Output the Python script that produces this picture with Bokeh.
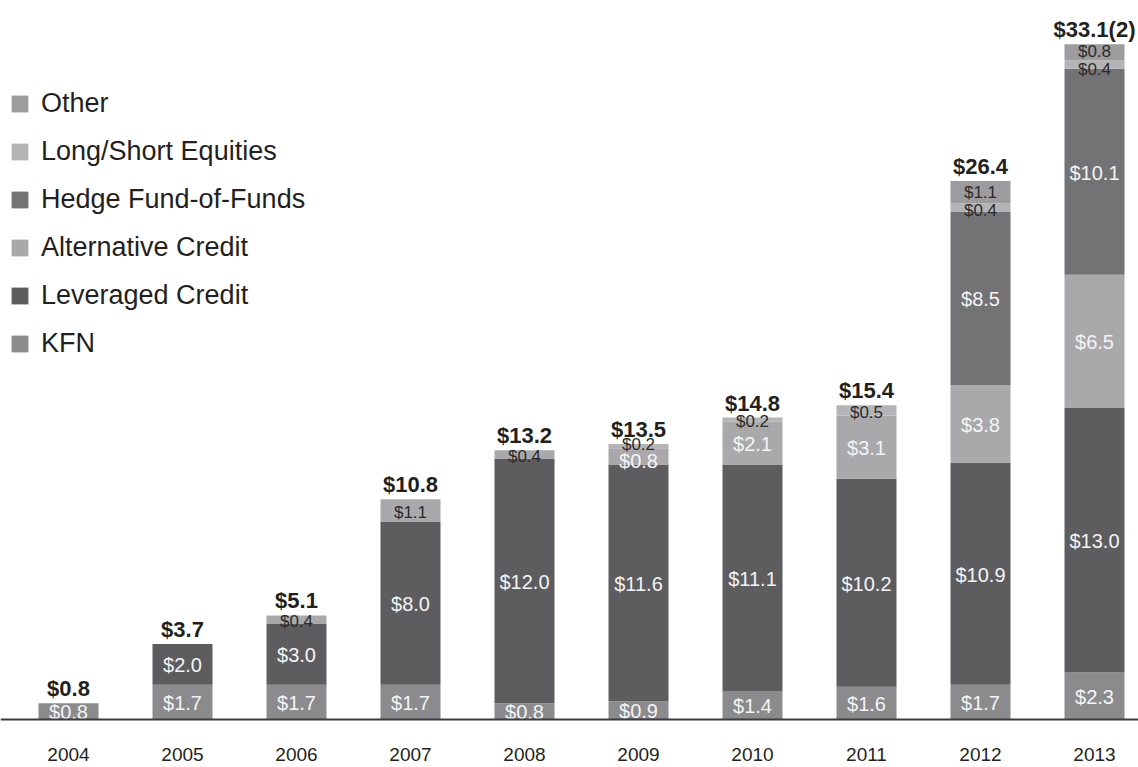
from bokeh.plotting import figure
from bokeh.models import Range1d, ColumnDataSource, Legend, LegendItem, Span
from bokeh.core.properties import value
from bokeh.embed import file_html
from bokeh.resources import INLINE

years = ["2004", "2005", "2006", "2007", "2008", "2009", "2010", "2011", "2012", "2013"]
kfn = [0.8, 1.7, 1.7, 1.7, 0.8, 0.9, 1.4, 1.6, 1.7, 2.3]
leveraged_credit = [0.0, 2.0, 3.0, 8.0, 12.0, 11.6, 11.1, 10.2, 10.9, 13.0]
alternative_credit = [0.0, 0.0, 0.4, 1.1, 0.4, 0.8, 2.1, 3.1, 3.8, 6.5]
hedge_fof = [0.0, 0.0, 0.0, 0.0, 0.0, 0.0, 0.0, 0.0, 8.5, 10.1]
long_short = [0.0, 0.0, 0.0, 0.0, 0.0, 0.2, 0.2, 0.5, 0.4, 0.4]
other = [0.0, 0.0, 0.0, 0.0, 0.0, 0.0, 0.0, 0.0, 1.1, 0.8]
totals = [0.8, 3.7, 5.1, 10.8, 13.2, 13.5, 14.8, 15.4, 26.4, 33.1]
total_notes = ["", "", "", "", "", "", "", "", "", "(2)"]

series_names = ["KFN", "Leveraged Credit", "Alternative Credit",
                "Hedge Fund-of-Funds", "Long/Short Equities", "Other"]
series_values = [kfn, leveraged_credit, alternative_credit, hedge_fof, long_short, other]
colors = ["#8b8b8d", "#5d5d5f", "#a9a9ac", "#737376", "#b4b4b6", "#9c9c9e"]

FONT = "Liberation Sans"
W, H = 1138, 767
BASE_Y = 719          # pixel row of the zero line
STEP = 114.0
CENTER0 = 68.0
BARW = 60.0
PX_PER_UNIT = 20.4

xs = list(range(len(years)))
keys = ["s%d" % i for i in range(len(series_names))]
data = {"x": xs}
for k, v in zip(keys, series_values):
    data[k] = v
src = ColumnDataSource(data)

p = figure(width=W, height=H, output_backend="svg", toolbar_location=None,
           x_range=Range1d(-CENTER0 / STEP, (W - CENTER0) / STEP),
           y_range=Range1d(-(H - BASE_Y) / PX_PER_UNIT, BASE_Y / PX_PER_UNIT),
           min_border=0, outline_line_color=None)
p.grid.visible = False
p.axis.visible = False
p.background_fill_color = "white"
p.border_fill_color = "white"

renderers = p.vbar_stack(keys, x="x", width=BARW / STEP, source=src,
                         color=colors, line_color=None)

p.add_layout(Span(location=0, dimension="width", line_color="#3c3c3c", line_width=2))

# year labels under the baseline
yr_src = ColumnDataSource(dict(x=xs, y=[0] * len(xs), t=years))
p.text(x="x", y="y", text="t", source=yr_src, text_color="#231f20",
       text_font_size="19px", text_font=value(FONT), text_align="center",
       text_baseline="middle", y_offset=35)

# segment labels
lx, ly, lt, lc, ls, lo = [], [], [], [], [], []
for i in xs:
    bottom = 0.0
    segs = []
    nonzero = [j for j in range(len(series_values)) if series_values[j][i] > 0]
    top_j = nonzero[-1]
    for j, vals in enumerate(series_values):
        v = vals[i]
        if v > 0:
            segs.append([j, v, bottom + v / 2.0])
        bottom += v
    min_gap = 0.9
    for _ in range(5):
        for a in range(len(segs) - 1):
            lo_s, hi_s = segs[a], segs[a + 1]
            if hi_s[2] - lo_s[2] < min_gap and (lo_s[1] < 1.5 or hi_s[1] < 1.5):
                mid = (hi_s[2] + lo_s[2]) / 2.0
                lo_s[2] = mid - min_gap / 2.0
                hi_s[2] = mid + min_gap / 2.0
    for j, v, yc in segs:
        dark = j >= 4 or (j == 2 and j == top_j)
        lx.append(i)
        ly.append(yc)
        lt.append("$%.1f" % v)
        lc.append("#2b2b2b" if dark else "#f4f4f4")
        ls.append("17px" if dark else "20px")
        lo.append(2 if dark else 1)

lab_src = ColumnDataSource(dict(x=lx, y=ly, t=lt, c=lc, s=ls, o=lo))
p.text(x="x", y="y", text="t", source=lab_src, text_color="c", text_font_size="s",
       text_font=value(FONT), text_align="center", text_baseline="middle", y_offset="o")

tot_src = ColumnDataSource(dict(x=xs, y=totals,
                                t=["$%.1f%s" % (t, n) for t, n in zip(totals, total_notes)]))
p.text(x="x", y="y", text="t", source=tot_src, text_color="#231f20",
       text_font_size="22px", text_font_style="bold", text_font=value(FONT),
       text_align="center", text_baseline="bottom", y_offset=-2)

items = [LegendItem(label=n, renderers=[r]) for n, r in zip(series_names, renderers)]
items = items[::-1]
legend = Legend(items=items, location=(9, 408), orientation="vertical",
                background_fill_alpha=0, border_line_alpha=0, padding=0, margin=0,
                glyph_width=21, glyph_height=21, label_height=32, spacing=16,
                label_standoff=11, label_text_font=FONT, label_text_font_size="27px",
                label_text_color="#231f20")
p.add_layout(legend)

open("out.html", "w").write(file_html(p, INLINE))
